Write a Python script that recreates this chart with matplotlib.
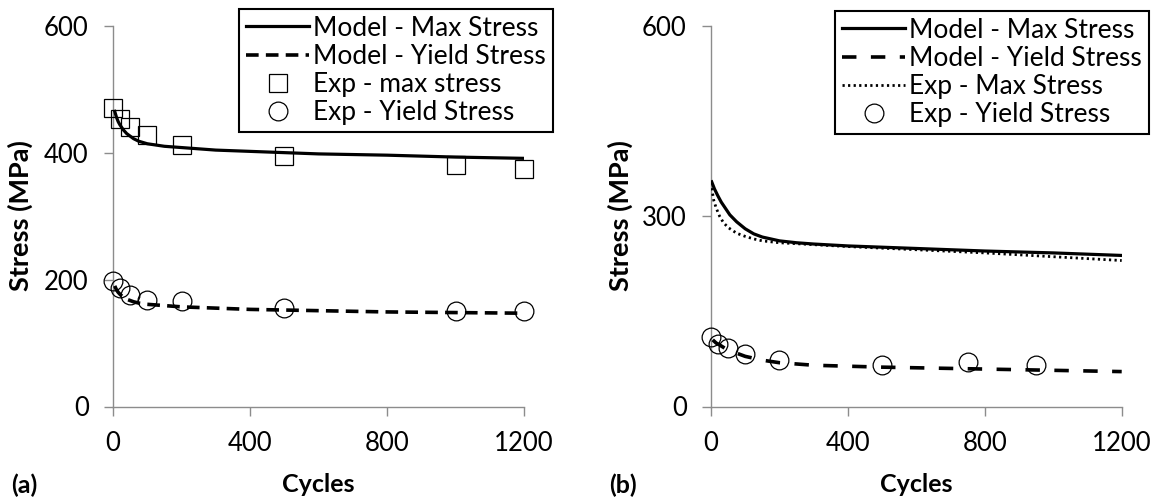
import matplotlib.pyplot as plt
from matplotlib.lines import Line2D

plt.rcParams['font.family'] = ['Lato', 'DejaVu Sans']

W, H = 1158, 501

# panel (a)
a_exp_x = [0, 20, 50, 100, 200, 500, 1000, 1200]
a_exp_max = [470, 453, 441, 428, 412, 394, 380, 374]
a_exp_yield = [198, 186, 175, 168, 166, 155, 150, 150]
a_model_x = [5, 10, 15, 20, 30, 40, 50, 60, 75, 100, 125, 150, 200, 300, 400, 500, 600, 800, 1000, 1200]
a_model_max = [465, 456, 449, 444, 436, 430, 426, 422, 418, 414, 412, 410, 408, 404, 402, 400, 398, 396, 393, 391]
a_model_yield = [190, 184, 180, 177, 172, 169, 167, 165, 163, 161, 160, 159, 157, 155, 153, 152, 151, 149, 148, 147]

# panel (b)
b_model_x = [2, 10, 20, 30, 40, 55, 75, 100, 125, 150, 200, 250, 300, 400, 600, 800, 1000, 1200]
b_model_max = [354, 343, 332, 322, 314, 302, 291, 280, 272, 267, 261, 258, 256, 253, 249, 245, 242, 238]
b_expmax_x = [2, 8, 15, 25, 36, 50, 75, 100, 125, 150, 200, 300, 400, 600, 800, 1000, 1200]
b_exp_max = [344, 325, 313, 300, 290, 282, 273, 268, 264, 261, 258, 255, 252, 247, 242, 236, 230]
b_yield_x = [5, 15, 25, 40, 50, 75, 100, 150, 200, 300, 500, 700, 1000, 1200]
b_model_yield = [105, 100, 97, 92, 89, 84, 79, 73, 69, 65, 62, 60, 57, 55]
b_exp_x = [0, 20, 50, 100, 200, 500, 750, 950]
b_exp_yield = [109, 99, 92, 83, 74, 66, 70, 65]

fig = plt.figure(figsize=(W / 100, H / 100), dpi=100)

ax_a = fig.add_axes([113 / W, 94.5 / H, 411 / W, 380.8 / H])
ax_b = fig.add_axes([711 / W, 94.5 / H, 410.7 / W, 380.8 / H])

gray = '#8c8c8c'
for ax in (ax_a, ax_b):
    ax.set_xlim(0, 1200)
    ax.set_ylim(0, 600)
    ax.set_xticks([0, 400, 800, 1200])
    for s in ('top', 'right'):
        ax.spines[s].set_visible(False)
    for s in ('left', 'bottom'):
        ax.spines[s].set_color(gray)
        ax.spines[s].set_linewidth(1)
    ax.tick_params(direction='out', length=6.5, width=1, color=gray, labelsize=18.5)
    ax.tick_params(axis='x', pad=11)
    ax.tick_params(axis='y', pad=11)

ax_a.set_yticks([0, 200, 400, 600])
ax_b.set_yticks([0, 300, 600])

# (a)
ax_a.plot(a_model_x, a_model_max, color='black', lw=2.3, zorder=3)
ax_a.plot(a_model_x, a_model_yield, color='black', lw=2.6, dashes=(3.5, 2), zorder=3)
ax_a.plot(a_exp_x, a_exp_max, ls='none', marker='s', ms=13, mfc='none', mec='black', mew=0.9, clip_on=False, zorder=4)
ax_a.plot(a_exp_x, a_exp_yield, ls='none', marker='o', ms=13.5, mfc='none', mec='black', mew=0.9, clip_on=False, zorder=4)

# (b)
ax_b.plot(b_model_x, b_model_max, color='black', lw=2.3, zorder=3)
ax_b.plot(b_yield_x, b_model_yield, color='black', lw=2.6, dashes=(4, 4), zorder=3)
ax_b.plot(b_expmax_x, b_exp_max, color='black', lw=2, dashes=(0.8, 1.2), zorder=3)
ax_b.plot(b_exp_x, b_exp_yield, ls='none', marker='o', ms=13.5, mfc='none', mec='black', mew=0.9, clip_on=False, zorder=4)

leg_kw = dict(loc='upper right', bbox_transform=fig.transFigure, frameon=True, fancybox=False,
              edgecolor='black', framealpha=1, borderaxespad=0, borderpad=0.25,
              labelspacing=0.12, handlelength=2.4, handletextpad=0.15, fontsize=19, numpoints=1)

h_a = [
    Line2D([], [], color='black', lw=2.3),
    Line2D([], [], color='black', lw=2.6, dashes=(3.5, 2)),
    Line2D([], [], ls='none', marker='s', ms=13, mfc='none', mec='black', mew=0.9),
    Line2D([], [], ls='none', marker='o', ms=13.5, mfc='none', mec='black', mew=0.9),
]
leg = ax_a.legend(h_a, ['Model - Max Stress', 'Model - Yield Stress', 'Exp - max stress', 'Exp - Yield Stress'],
                  bbox_to_anchor=(552.7 / W, 1 - 9 / H), **leg_kw)
leg.get_frame().set_linewidth(1.5)

h_b = [
    Line2D([], [], color='black', lw=2.3),
    Line2D([], [], color='black', lw=2.6, dashes=(4, 4)),
    Line2D([], [], color='black', lw=2, dashes=(0.8, 1.2)),
    Line2D([], [], ls='none', marker='o', ms=13.5, mfc='none', mec='black', mew=0.9),
]
leg = ax_b.legend(h_b, ['Model - Max Stress', 'Model - Yield Stress', 'Exp - Max Stress', 'Exp - Yield Stress'],
                  bbox_to_anchor=(1148.5 / W, 1 - 11 / H), **leg_kw)
leg.get_frame().set_linewidth(1.5)

lab = dict(fontsize=18, fontweight='bold', ha='center', va='center')
fig.text(20 / W, 1 - 216 / H, 'Stress (MPa)', rotation=90, fontsize=19.5, fontweight='bold', ha='center', va='center')
fig.text(620.7 / W, 1 - 216 / H, 'Stress (MPa)', rotation=90, fontsize=19.5, fontweight='bold', ha='center', va='center')
fig.text(318.5 / W, 1 - 485 / H, 'Cycles', **lab)
fig.text(916.5 / W, 1 - 485 / H, 'Cycles', **lab)
fig.text(24 / W, 1 - 485 / H, '(a)', **lab)
fig.text(622.6 / W, 1 - 485 / H, '(b)', **lab)

fig.savefig('out.png', dpi=100, facecolor='white')
